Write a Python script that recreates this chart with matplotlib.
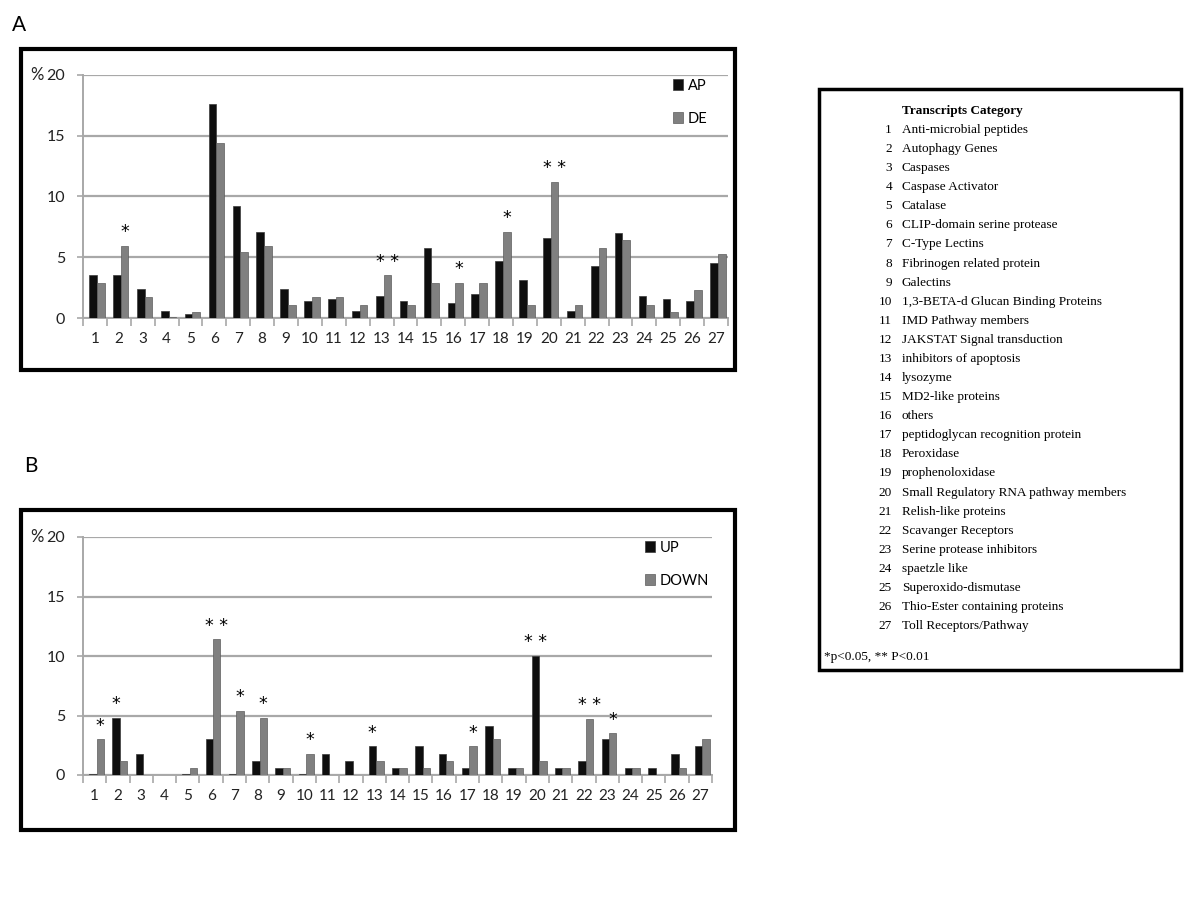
import numpy as np
import matplotlib.pyplot as plt
from matplotlib.patches import Rectangle

# category numbers on the x axis
categories = [str(i) for i in range(1, 28)]

# panel A values (%)
ap = [3.5, 3.5, 2.4, 0.6, 0.35, 17.6, 9.2, 7.1, 2.4, 1.4, 1.6, 0.6, 1.8, 1.4,
      5.8, 1.2, 2.0, 4.7, 3.1, 6.6, 0.55, 4.3, 7.0, 1.8, 1.6, 1.4, 4.5]
de = [2.9, 5.9, 1.7, 0.05, 0.5, 14.4, 5.4, 5.9, 1.1, 1.7, 1.7, 1.1, 3.5, 1.1,
      2.9, 2.9, 2.9, 7.1, 1.1, 11.2, 1.1, 5.8, 6.4, 1.1, 0.5, 2.3, 5.3]

# panel B values (%)
up = [0.05, 4.8, 1.8, 0.0, 0.05, 3.0, 0.05, 1.2, 0.6, 0.05, 1.8, 1.2, 2.4, 0.6,
      2.4, 1.8, 0.6, 4.1, 0.6, 10.0, 0.6, 1.2, 3.0, 0.6, 0.6, 1.8, 2.4]
down = [3.0, 1.2, 0.0, 0.0, 0.6, 11.4, 5.4, 4.8, 0.6, 1.8, 0.0, 0.0, 1.2, 0.6,
        0.6, 1.2, 2.4, 3.0, 0.6, 1.2, 0.6, 4.7, 3.5, 0.6, 0.0, 0.6, 3.0]

# significance marks (category number -> mark)
stars_ap = {}
stars_de = {2: '*', 13: '**', 16: '*', 18: '*', 20: '**'}
stars_up = {2: '*', 13: '*', 20: '**'}
stars_down = {1: '*', 6: '**', 7: '*', 8: '*', 10: '*', 17: '*', 22: '**', 23: '*'}

transcripts = ["Anti-microbial peptides", "Autophagy Genes", "Caspases",
               "Caspase Activator", "Catalase", "CLIP-domain serine protease",
               "C-Type Lectins", "Fibrinogen related protein", "Galectins",
               "1,3-BETA-d Glucan Binding Proteins", "IMD Pathway members",
               "JAKSTAT Signal transduction", "inhibitors of apoptosis",
               "lysozyme", "MD2-like proteins", "others",
               "peptidoglycan recognition protein", "Peroxidase",
               "prophenoloxidase", "Small Regulatory RNA pathway members",
               "Relish-like proteins", "Scavanger Receptors",
               "Serine protease inhibitors", "spaetzle like",
               "Superoxido-dismutase", "Thio-Ester containing proteins",
               "Toll Receptors/Pathway"]

BLACK = '#0e0e0e'
GREY = '#808080'
GRID = '#a8a8a8'
W, H = 1200, 900

plt.rcParams['font.family'] = ['Lato', 'DejaVu Sans']

fig = plt.figure(figsize=(12, 9), dpi=100)


def px_axes(left, right, top, bottom):
    # axes placed from pixel coordinates of the reference
    return fig.add_axes([left / W, 1 - bottom / H, (right - left) / W, (bottom - top) / H])


def frame(x0, y0, x1, y1, lw=3):
    fig.patches.append(Rectangle((x0 / W, 1 - y1 / H), (x1 - x0) / W, (y1 - y0) / H,
                                 transform=fig.transFigure, fill=False,
                                 edgecolor='black', linewidth=lw))


def draw_panel(ax, s1, s2, n1, n2, st1, st2, leg_x, width_px):
    x = np.arange(1, len(categories) + 1)
    w = 0.32
    ax.bar(x - 0.08, s1, w, color=BLACK, edgecolor='#3a3a3a', linewidth=0.5, label=n1, zorder=3)
    ax.bar(x + 0.24, s2, w, color=GREY, edgecolor='#5c5c5c', linewidth=0.5, label=n2, zorder=3)
    for k, m in st1.items():
        ax.text(k - 0.08, s1[k - 1] + 0.4, ' '.join(m), ha='center', va='bottom',
                fontsize=12.5, family='DejaVu Sans')
    for k, m in st2.items():
        ax.text(k + 0.24, s2[k - 1] + 0.4, ' '.join(m), ha='center', va='bottom',
                fontsize=12.5, family='DejaVu Sans')
    ax.set_xlim(0.5, len(categories) + 0.5)
    ax.set_ylim(0, 20)
    ax.set_yticks([0, 5, 10, 15, 20])
    ax.yaxis.grid(True, color=GRID, linewidth=1.6, zorder=0)
    ax.set_axisbelow(True)
    # boundary ticks below the axis, labels at the category centres
    ax.set_xticks(np.arange(0.5, len(categories) + 1, 1))
    ax.set_xticklabels([])
    ax.set_xticks(x, minor=True)
    ax.set_xticklabels(categories, minor=True)
    ax.tick_params(axis='x', which='major', length=6, color=GRID, width=1.2)
    ax.tick_params(axis='x', which='minor', length=0, pad=10, labelsize=11, labelcolor='#222222')
    ax.tick_params(axis='y', length=4, color=GRID, width=1.2, pad=9, labelsize=11.5,
                   labelcolor='#222222')
    for s in ['top', 'right']:
        ax.spines[s].set_visible(False)
    for s in ['left', 'bottom']:
        ax.spines[s].set_color(GRID)
        ax.spines[s].set_linewidth(1.4)
    ax.text(-53 / width_px, 20, '%', transform=ax.get_yaxis_transform(), ha='left',
            va='center', fontsize=12, color='#222222')
    ax.legend(loc='upper left', bbox_to_anchor=(leg_x, 0.985), frameon=False,
              handlelength=0.7, handleheight=0.7, handletextpad=0.3,
              labelspacing=1.3, borderpad=0, borderaxespad=0, fontsize=10.5)


# panel A
frame(21, 49, 735, 370)
axa = px_axes(83, 728, 75, 318)
draw_panel(axa, ap, de, 'AP', 'DE', stars_ap, stars_de, 0.915, 645)
fig.text(12 / W, 1 - 25 / H, 'A', fontsize=15, va='center', ha='left')

# panel B
frame(21, 510, 735, 830)
axb = px_axes(83, 712, 537, 775)
draw_panel(axb, up, down, 'UP', 'DOWN', stars_up, stars_down, 0.893, 629)
fig.text(24 / W, 1 - 466 / H, 'B', fontsize=15, va='center', ha='left')

# category key on the right
frame(819, 89, 1181, 670, lw=2.5)
serif = 'Liberation Serif'
fig.text(902 / W, 1 - 111 / H, 'Transcripts Category', fontsize=9.5, fontweight='bold',
         family=serif, va='center', ha='left')
for i, name in enumerate(transcripts):
    yy = 1 - (130 + 19.08 * i) / H
    fig.text(892 / W, yy, str(i + 1), fontsize=9.5, family=serif, va='center', ha='right')
    fig.text(902 / W, yy, name, fontsize=9.5, family=serif, va='center', ha='left')
fig.text(824 / W, 1 - 657 / H, '*p<0.05, ** P<0.01', fontsize=9.5, family=serif,
         va='center', ha='left')

fig.savefig('out.png', dpi=100)
